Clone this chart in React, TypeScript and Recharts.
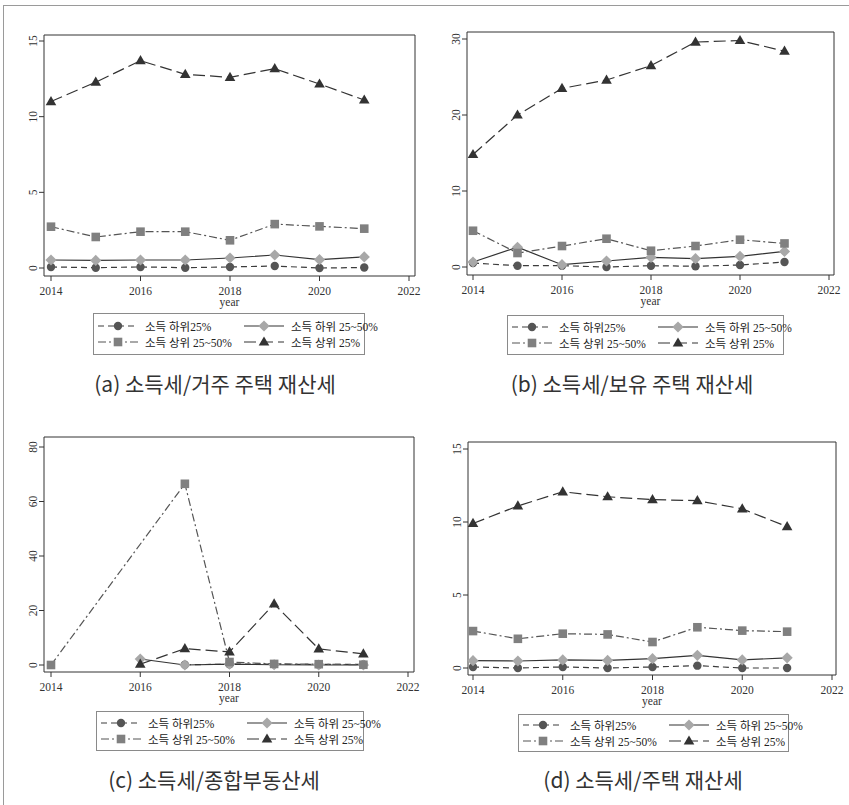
import React from "react";
import { LineChart, Line, XAxis, YAxis, Legend, CartesianGrid } from "recharts";

// years on the x axis
const years = [2014, 2015, 2016, 2017, 2018, 2019, 2020, 2021];
const xTicks = [2014, 2016, 2018, 2020, 2022];

const seriesNames = ["소득 하위25%", "소득 하위 25~50%", "소득 상위 25~50%", "소득 상위 25%"];

// (a) 소득세/거주 주택 재산세
const aLow25 = [0.07, 0.02, 0.07, 0.02, 0.07, 0.13, 0.0, 0.03];
const aLow2550 = [0.53, 0.5, 0.53, 0.53, 0.66, 0.86, 0.55, 0.73];
const aHigh2550 = [2.73, 2.05, 2.4, 2.4, 1.83, 2.9, 2.75, 2.6];
const aHigh25 = [11.0, 12.28, 13.7, 12.8, 12.6, 13.17, 12.16, 11.1];
const aTicks = [0, 5, 10, 15];

// (b) 소득세/보유 주택 재산세
const bLow25 = [0.52, 0.17, 0.17, 0.0, 0.17, 0.1, 0.26, 0.66];
const bLow2550 = [0.66, 2.6, 0.3, 0.79, 1.27, 1.1, 1.4, 2.05];
const bHigh2550 = [4.77, 1.84, 2.76, 3.72, 2.14, 2.76, 3.59, 3.1];
const bHigh25 = [14.8, 20.0, 23.5, 24.6, 26.5, 29.6, 29.8, 28.4];
const bTicks = [0, 10, 20, 30];

// (c) 소득세/종합부동산세
const cLow25 = [null, null, null, 0.1, 0.3, 0.3, 0.2, 0.2];
const cLow2550 = [null, null, 2.2, 0.0, 0.3, 0.1, 0.0, 0.0];
const cHigh2550 = [0.0, null, null, 66.5, 1.1, 0.4, 0.3, 0.1];
const cHigh25 = [null, null, 0.3, 6.0, 4.8, 22.4, 5.9, 4.1];
const cTicks = [0, 20, 40, 60, 80];

// (d) 소득세/주택 재산세
const dLow25 = [0.07, 0.0, 0.07, 0.0, 0.07, 0.16, 0.0, 0.0];
const dLow2550 = [0.5, 0.48, 0.55, 0.52, 0.64, 0.87, 0.55, 0.7];
const dHigh2550 = [2.53, 2.0, 2.35, 2.3, 1.78, 2.79, 2.56, 2.49];
const dHigh25 = [9.9, 11.1, 12.07, 11.73, 11.53, 11.46, 10.9, 9.68];
const dTicks = [0, 5, 10, 15];

const SERIF = "'Liberation Serif', 'Times New Roman', serif";
const MIXED = "'Liberation Serif', 'Noto Sans CJK KR', serif";
const AXIS = "#333";

const series = [
  { key: "s1", shape: "circle", fill: "#555555", stroke: "#3c3c3c", dash: "6 4" },
  { key: "s2", shape: "diamond", fill: "#a8a8a8", stroke: "#333333", dash: undefined },
  { key: "s3", shape: "square", fill: "#808080", stroke: "#555555", dash: "8 3 2 3" },
  { key: "s4", shape: "triangle", fill: "#333333", stroke: "#333333", dash: "12 5" },
];

function Marker({ shape, cx, cy, fill }) {
  if (shape === "circle") return <circle cx={cx} cy={cy} r={4.2} fill={fill} />;
  if (shape === "diamond") {
    const h = 5.6;
    return <polygon points={`${cx},${cy - h} ${cx + h},${cy} ${cx},${cy + h} ${cx - h},${cy}`} fill={fill} />;
  }
  if (shape === "square") return <rect x={cx - 4.3} y={cy - 4.3} width={8.6} height={8.6} fill={fill} />;
  return <polygon points={`${cx},${cy - 5.6} ${cx + 5.3},${cy + 3.6} ${cx - 5.3},${cy + 3.6}`} fill={fill} />;
}

const YTick = (props) => {
  const { x, y, payload } = props;
  return (
    <text
      x={x}
      y={y}
      transform={`rotate(-90 ${x} ${y})`}
      textAnchor="middle"
      fontSize={11.5}
      fill={AXIS}
      fontFamily={SERIF}
    >
      {payload.value}
    </text>
  );
};

function LegendSample({ s }) {
  return (
    <svg width={42} height={12} style={{ display: "block" }}>
      <line x1={1} y1={6} x2={41} y2={6} stroke={s.stroke} strokeWidth={1.2} strokeDasharray={s.dash} />
      <Marker shape={s.shape} cx={21} cy={6} fill={s.fill} />
    </svg>
  );
}

function LegendBox({ w, h }) {
  const cell = (i) => (
    <div key={i} style={{ display: "flex", alignItems: "center", height: 16 }}>
      <LegendSample s={series[i]} />
      <span style={{ marginLeft: 6, fontSize: 11.5, color: "#222", fontFamily: MIXED, whiteSpace: "nowrap" }}>
        {seriesNames[i]}
      </span>
    </div>
  );
  return (
    <div
      style={{
        width: w,
        height: h,
        boxSizing: "border-box",
        border: "1px solid #8a8a8a",
        background: "#fff",
        display: "grid",
        gridTemplateColumns: "146px auto",
        alignContent: "center",
        paddingLeft: 3,
      }}
    >
      {cell(0)}
      {cell(1)}
      {cell(2)}
      {cell(3)}
    </div>
  );
}

function Panel({ p }) {
  const data = years.map((year, i) => ({
    year,
    s1: p.vals[0][i],
    s2: p.vals[1][i],
    s3: p.vals[2][i],
    s4: p.vals[3][i],
  }));
  return (
    <div style={{ position: "absolute", left: p.left, top: p.top }}>
      <LineChart width={p.width} height={360} data={data} margin={p.margin}>
        {/* top and right edges of the plot box */}
        <CartesianGrid
          stroke={AXIS}
          strokeWidth={1}
          horizontalCoordinatesGenerator={({ offset }) => [offset.top]}
          verticalCoordinatesGenerator={({ offset }) => [offset.left + offset.width]}
        />
        <XAxis
          dataKey="year"
          type="number"
          domain={[2014, 2022]}
          ticks={xTicks}
          padding={p.xPad}
          height={34}
          stroke={AXIS}
          tickSize={5}
          tickMargin={6}
          tick={{ fontSize: 11.5, fill: AXIS, fontFamily: SERIF }}
          label={{ value: "year", position: "insideBottom", offset: 4, fontSize: 11.5, fill: AXIS, fontFamily: SERIF }}
        />
        <YAxis
          type="number"
          domain={[0, p.yTicks[p.yTicks.length - 1]]}
          ticks={p.yTicks}
          padding={p.yPad}
          width={24}
          stroke={AXIS}
          tickSize={5}
          tickMargin={2}
          tick={<YTick />}
        />
        {series.map((s, idx) => (
          <Line
            key={s.key}
            dataKey={s.key}
            name={seriesNames[idx]}
            type="linear"
            stroke={s.stroke}
            strokeWidth={1.2}
            strokeDasharray={s.dash}
            connectNulls
            isAnimationActive={false}
            activeDot={false}
            dot={(d) =>
              d.cx == null || d.cy == null || d.value == null ? (
                <g key={d.key ?? `${s.key}-${d.index}`} />
              ) : (
                <Marker key={d.key ?? `${s.key}-${d.index}`} shape={s.shape} cx={d.cx} cy={d.cy} fill={s.fill} />
              )
            }
          />
        ))}
        <Legend
          layout="vertical"
          align="center"
          verticalAlign="middle"
          wrapperStyle={{ left: p.legend.x, top: p.legend.y, width: p.legend.w, height: p.legend.h }}
          content={() => <LegendBox w={p.legend.w} h={p.legend.h} />}
        />
      </LineChart>
    </div>
  );
}

const panels = [
  {
    left: 0, top: 0, width: 430,
    margin: { top: 35, left: 20, right: 15, bottom: 50 },
    xPad: { left: 7, right: 6 }, yPad: { top: 6, bottom: 8 },
    yTicks: aTicks, vals: [aLow25, aLow2550, aHigh2550, aHigh25],
    legend: { x: 93, y: 313, w: 272, h: 42 },
  },
  {
    left: 430, top: 0, width: 419,
    margin: { top: 32, left: 13, right: 15, bottom: 51 },
    xPad: { left: 6, right: 5 }, yPad: { top: 7, bottom: 8 },
    yTicks: bTicks, vals: [bLow25, bLow2550, bHigh2550, bHigh25],
    legend: { x: 77, y: 315, w: 277, h: 40 },
  },
  {
    left: 0, top: 400, width: 430,
    margin: { top: 37, left: 20, right: 16, bottom: 54 },
    xPad: { left: 7, right: 6 }, yPad: { top: 10, bottom: 7 },
    yTicks: cTicks, vals: [cLow25, cLow2550, cHigh2550, cHigh25],
    legend: { x: 96, y: 311, w: 268, h: 40 },
  },
  {
    left: 430, top: 400, width: 419,
    margin: { top: 42, left: 14, right: 13, bottom: 51 },
    xPad: { left: 5, right: 4 }, yPad: { top: 7, bottom: 7 },
    yTicks: dTicks, vals: [dLow25, dLow2550, dHigh2550, dHigh25],
    legend: { x: 88, y: 314, w: 271, h: 38 },
  },
];

const captions = [
  { text: "(a) 소득세/거주 주택 재산세", cx: 215, cy: 383 },
  { text: "(b) 소득세/보유 주택 재산세", cx: 632, cy: 383 },
  { text: "(c) 소득세/종합부동산세", cx: 214, cy: 779 },
  { text: "(d) 소득세/주택 재산세", cx: 643, cy: 779 },
];

export default function App() {
  return (
    <div style={{ position: "absolute", left: 0, top: 0, width: 849, height: 805, background: "#fff", overflow: "hidden" }}>
      <div
        style={{
          position: "absolute",
          left: 3,
          top: 5,
          width: 860,
          height: 820,
          borderTop: "1.5px solid #9a9a9a",
          borderLeft: "1.5px solid #9a9a9a",
        }}
      />
      {panels.map((p, i) => (
        <Panel key={i} p={p} />
      ))}
      {captions.map((c, i) => (
        <div
          key={i}
          style={{
            position: "absolute",
            left: c.cx,
            top: c.cy - 14,
            height: 28,
            lineHeight: "28px",
            transform: "translateX(-50%)",
            whiteSpace: "nowrap",
            fontSize: 21,
            color: "#333",
            fontFamily: "'Noto Sans CJK KR', sans-serif",
          }}
        >
          {c.text}
        </div>
      ))}
    </div>
  );
}
